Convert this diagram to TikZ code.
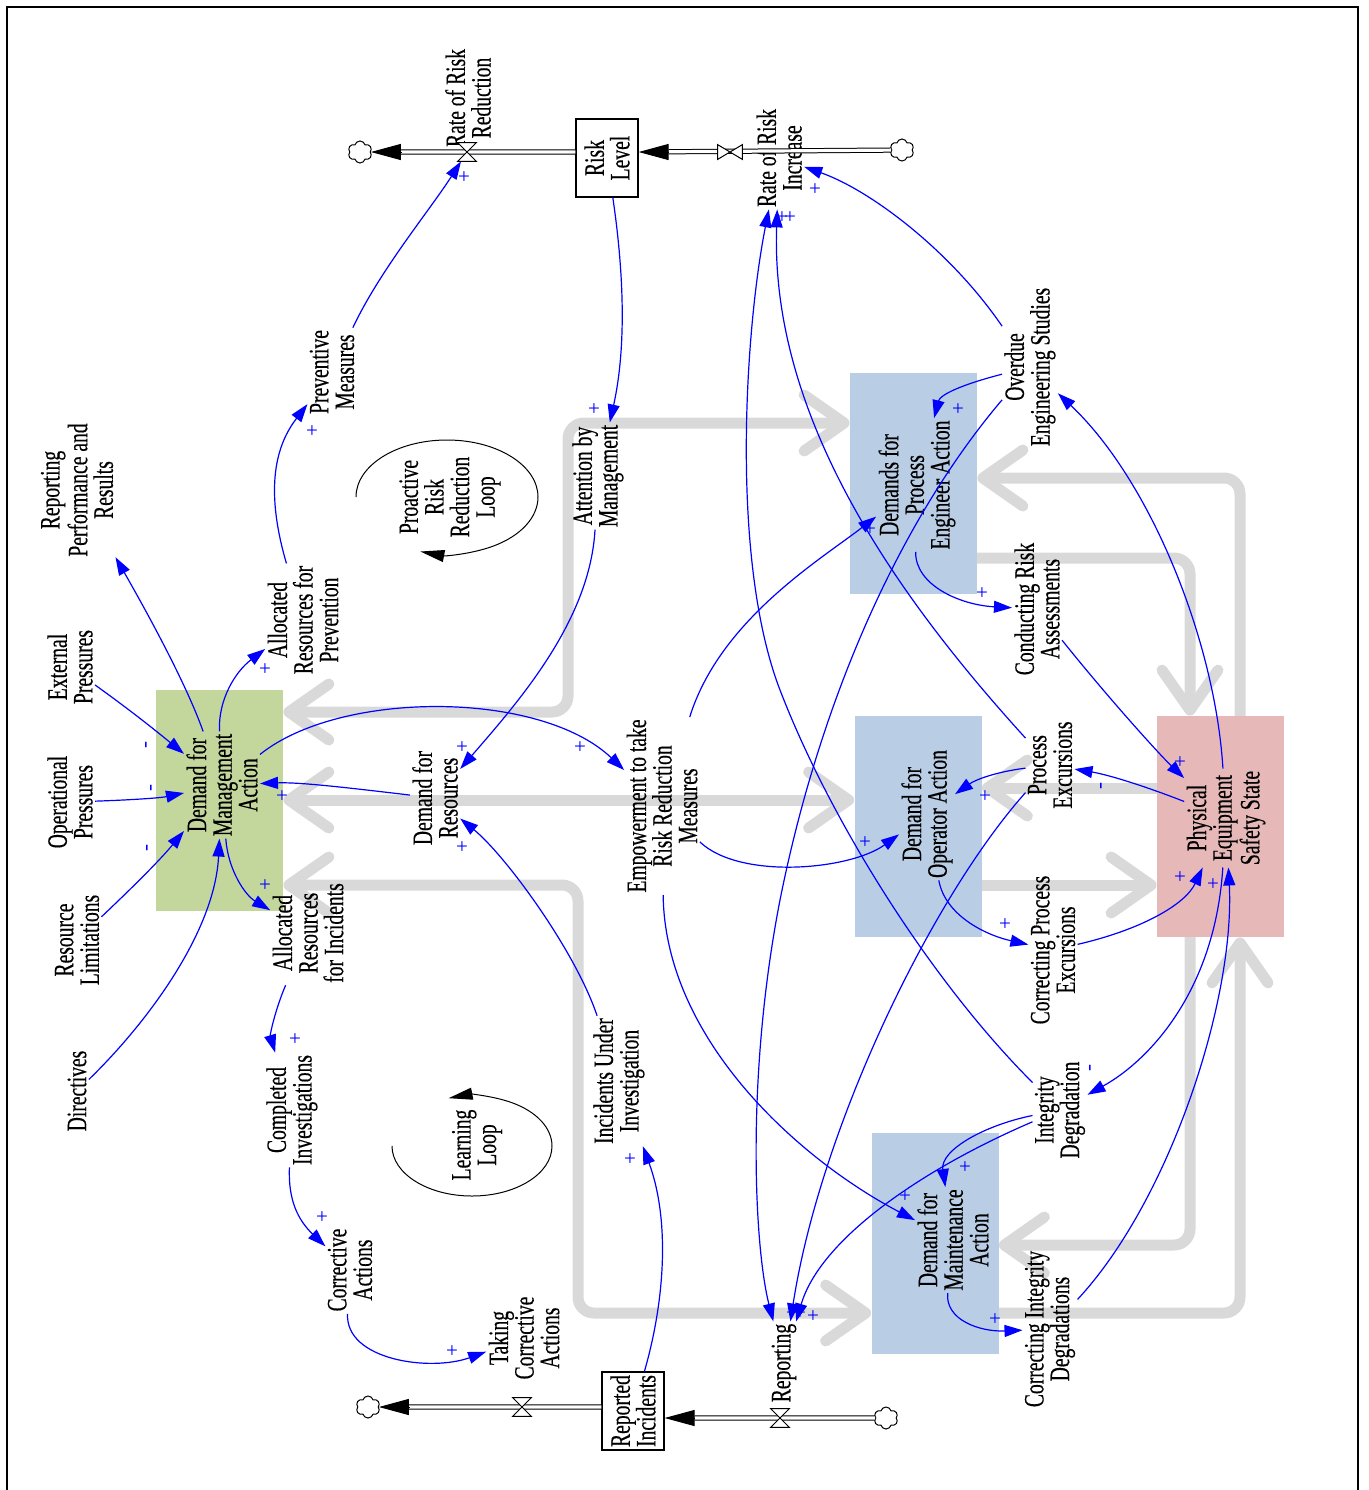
\documentclass[tikz,border=0pt]{standalone}
\usepackage{fontspec}
\setmainfont{Liberation Serif}
\newfontfamily\lblfont[FakeStretch=0.70,FakeBold=0.4]{Liberation Serif}
\usetikzlibrary{arrows.meta,shapes.symbols,calc}

\definecolor{linkblue}{HTML}{0000FF}
\definecolor{mgmtgreen}{HTML}{C3D69B}
\definecolor{groupblue}{HTML}{B9CDE5}
\definecolor{physpink}{HTML}{E6B9B8}
\definecolor{flowgray}{HTML}{D9D9D9}

\pgfdeclarelayer{background}
\pgfsetlayers{background,main}

\tikzset{
  lbl/.style={rotate=90, align=center, inner sep=1pt, text=black,
    font=\lblfont\fontsize{14}{12.8}\selectfont},
  areabox/.style={draw=none, inner sep=0pt, minimum width=63.5pt, minimum height=110.5pt},
  stock/.style={draw=black, line width=0.6pt, fill=white, rotate=90, inner sep=0pt,
    minimum width=39pt, minimum height=31pt, align=center,
    font=\lblfont\fontsize{14}{12.8}\selectfont},
  link/.style={draw=linkblue, line width=0.6pt, -{Triangle[length=9pt,width=6pt]}},
  polp/.style={text=linkblue, inner sep=0pt, font=\fontsize{10.5}{10.5}\selectfont},
  polm/.style={polp, rotate=90},
  gbar/.style={draw=flowgray, line width=5.5pt, rounded corners=8pt, line cap=round},
  gone/.style={-{Straight Barb[length=20pt,width=28pt,round]}},
  gboth/.style={{Straight Barb[length=20pt,width=28pt,round]}-{Straight Barb[length=20pt,width=28pt,round]}},
  pipe/.style={draw=black, line width=0.5pt, double=white, double distance=1.6pt},
  flowtip/.style={draw=black, line width=0.5pt, -{Triangle[length=15pt,width=8pt]}},
  valve/.style={inner sep=0pt, minimum width=9pt, minimum height=9pt},
  cloudsrc/.style={cloud, cloud puffs=6, cloud puff arc=150, aspect=1, draw=black,
    line width=0.5pt, fill=white, inner sep=0pt, minimum width=12pt, minimum height=11pt},
  loopar/.style={draw=black, line width=0.5pt, -{Triangle[length=12pt,width=6pt]}},
}

\begin{document}
\begin{tikzpicture}[x=0.5pt,y=-0.5pt]
\useasboundingbox (0,0) rectangle (1369,1490);
\draw[line width=1pt] (7,1490) -- (7,7) -- (1358,7) -- (1358,1490);

% shaded areas of responsibility
\node[areabox, fill=mgmtgreen] (mgmtbox) at (219.5,800.5) {};
\node[areabox, fill=groupblue] (pebox) at (913.5,483.5) {};
\node[areabox, fill=groupblue] (opbox) at (918,826.5) {};
\node[areabox, fill=groupblue] (maintbox) at (935,1243.5) {};
\node[areabox, fill=physpink] (physbox) at (1220.5,826.5) {};

% broad grey arrows between the areas
\coordinate (g1a) at (568,712); \coordinate (g1b) at (568,423);
\coordinate (g2) at (560,800);
\coordinate (g3a) at (578,885); \coordinate (g3b) at (578,1313);
\coordinate (g4) at (1070,885);
\coordinate (g5) at (1070,788);
\coordinate (g6) at (1190,558);
\coordinate (g7) at (1240,478);
\coordinate (g8) at (1190,1245);
\coordinate (g9) at (1240,1313);
\begin{pgfonlayer}{background}
\draw[gbar,gboth] (mgmtbox.east |- g1a) -- (g1a) -- (g1b) -- (pebox.west |- g1b);
\draw[gbar,gboth] (mgmtbox.east |- g2) -- (opbox.west |- g2);
\draw[gbar,gboth] (mgmtbox.east |- g3a) -- (g3a) -- (g3b) -- (maintbox.west |- g3b);
\draw[gbar,gone] (opbox.east |- g4) -- (physbox.west |- g4);
\draw[gbar,gone] (physbox.west |- g5) -- (opbox.east |- g5);
\draw[gbar,gone] (pebox.east |- g6) -- (g6) -- (g6 |- physbox.north);
\draw[gbar,gone] (g7 |- physbox.north) -- (g7) -- (pebox.east |- g7);
\draw[gbar,gone] (g8 |- physbox.south) -- (g8) -- (maintbox.east |- g8);
\draw[gbar,gone] (maintbox.east |- g9) -- (g9) -- (g9 |- physbox.south);
\end{pgfonlayer}

% area labels
\node[lbl] (mgmt) at (222,785) {Demand for\\Management\\Action};
\node[lbl] (pe) at (917,485) {Demands for\\Process\\Engineer Action};
\node[lbl] (op) at (927,814) {Demand for\\Operator Action};
\node[lbl] (maint) at (953,1240) {Demand for\\Maintenance\\Action};
\node[lbl] (phys) at (1226,818) {Physical\\Equipment\\Safety State};

% variables
\node[lbl] (rrr) at (468,98) {Rate of Risk\\Reduction};
\node[lbl] (rri) at (779,158) {Rate of Risk\\Increase};
\node[lbl] (repperf) at (77,490) {Reporting\\Performance and\\Results};
\node[lbl] (ext) at (70,667) {External\\Pressures};
\node[lbl] (oper) at (70,802) {Operational\\Pressures};
\node[lbl] (reslim) at (77,940) {Resource\\Limitations};
\node[lbl] (direct) at (77,1091) {Directives};
\node[lbl] (allocprev) at (303,620) {Allocated\\Resources for\\Prevention};
\node[lbl] (allocinc) at (308,933) {Allocated\\Resources\\for Incidents};
\node[lbl] (compinv) at (292,1110) {Completed\\Investigations};
\node[lbl] (corract) at (350,1270) {Corrective\\Actions};
\node[lbl] (taking) at (524,1338) {Taking\\Corrective\\Actions};
\node[lbl] (prev) at (332,372) {Preventive\\Measures};
\node[lbl] (attn) at (598,476) {Attention by\\Management};
\node[lbl] (demres) at (435,798) {Demand for\\Resources};
\node[lbl] (empower) at (662,806) {Empowerment to take\\Risk Reduction\\Measures};
\node[lbl] (iui) at (619,1081) {Incidents Under\\Investigation};
\node[lbl] (reporting) at (784,1363) {Reporting};
\node[lbl] (overdue) at (1030,367) {Overdue\\Engineering Studies};
\node[lbl] (cra) at (1037,609) {Conducting Risk\\Assessments};
\node[lbl] (procexc) at (1050,765) {Process\\Excursions};
\node[lbl] (cpe) at (1053,950) {Correcting Process\\Excursions};
\node[lbl] (intdeg) at (1060,1110) {Integrity\\Degradation};
\node[lbl] (cid) at (1050,1329) {Correcting Integrity\\Degradations};

% loop markers
\node[lbl] (proloop) at (450,497) {Proactive\\Risk\\Reduction\\Loop};
\node[lbl] (learnloop) at (477,1145) {Learning\\Loop};
\draw[loopar] (356,497) arc[start angle=180, end angle=467, x radius=91, y radius=57];
\draw[loopar] (392,1146) arc[start angle=180, end angle=-107, x radius=80, y radius=50];

% stocks, flows, valves, clouds
\node[stock] (risk) at (607,158) {Risk\\Level};
\node[stock] (repinc) at (633,1411) {Reported\\Incidents};
\node[valve] (rrvalve) at (467,152) {};
\node[valve, minimum width=12pt, minimum height=7pt] (rivalve) at (730,152) {};
\node[valve] (civalve) at (522,1407) {};
\node[valve] (repvalve) at (780,1418) {};
\node[cloudsrc] (sinkrr) at (360,152) {};
\node[cloudsrc] (srcri) at (902,150) {};
\node[cloudsrc] (sinkci) at (368,1407) {};
\node[cloudsrc] (srcrep) at (886,1418) {};

\draw[pipe, shorten >=15pt] (risk.north |- rrvalve) -- (sinkrr);
\draw[flowtip] ($(sinkrr.east)+(30,0)$) -- (sinkrr.east);
\draw[pipe, shorten >=15pt] (srcri) -- (risk.south |- rivalve);
\draw[flowtip] ($(risk.south |- rivalve)+(30,0)$) -- (risk.south |- rivalve);
\draw[pipe, shorten >=15pt] (repinc.north |- civalve) -- (sinkci);
\draw[flowtip] ($(sinkci.east)+(30,0)$) -- (sinkci.east);
\draw[pipe, shorten >=15pt] (srcrep) -- (repinc.south |- repvalve);
\draw[flowtip] ($(repinc.south |- repvalve)+(30,0)$) -- (repinc.south |- repvalve);

\draw[fill=white, line width=0.5pt] (rrvalve.north west) -- (rrvalve.north east) -- (rrvalve.south west) -- (rrvalve.south east) -- cycle;
\draw[fill=white, line width=0.5pt] (civalve.north west) -- (civalve.north east) -- (civalve.south west) -- (civalve.south east) -- cycle;
\draw[fill=white, line width=0.5pt] (repvalve.north west) -- (repvalve.north east) -- (repvalve.south west) -- (repvalve.south east) -- cycle;
\draw[fill=white, line width=0.5pt] (rivalve.north west) -- (rivalve.south west) -- (rivalve.north east) -- (rivalve.south east) -- cycle;

% causal links
\draw[link] (risk) .. controls (622,260) and (628,340) .. (attn);
\draw[link] (attn) .. controls (590,620) and (520,700) .. (demres);
\draw[link] (mgmt) .. controls (340,690) and (540,690) .. (empower);
\draw[link] (demres) .. controls (350,788) and (300,782) .. (mgmt);
\draw[link] (iui) .. controls (575,950) and (505,855) .. (demres);
\draw[link] (mgmt) .. controls (218,700) and (235,672) .. (allocprev);
\draw[link] (mgmt) .. controls (185,680) and (140,600) .. (repperf);
\draw[link] (ext) .. controls (130,710) and (155,730) .. (mgmt);
\draw[link] (oper) .. controls (130,800) and (160,798) .. (mgmt);
\draw[link] (reslim) .. controls (135,885) and (160,860) .. (mgmt);
\draw[link] (direct) .. controls (150,1020) and (215,930) .. (mgmt);
\draw[link] (mgmt) .. controls (228,870) and (245,895) .. (allocinc);
\draw[link] (allocinc) .. controls (275,1010) and (270,1035) .. (compinv);
\draw[link] (compinv) .. controls (288,1200) and (298,1220) .. (corract);
\draw[link] (corract) .. controls (345,1360) and (430,1372) .. (taking);
\draw[link] (allocprev) .. controls (262,480) and (280,440) .. (prev);
\draw[link] (prev) .. controls (380,270) and (430,210) .. (rrvalve);
\draw[link] (repinc) .. controls (665,1300) and (670,1220) .. (iui);
\draw[link] (empower) .. controls (720,620) and (820,560) .. (pe);
\draw[link] (empower) .. controls (740,880) and (850,870) .. (op);
\draw[link] (empower) .. controls (665,1040) and (800,1160) .. (maint);
\draw[link] (overdue) .. controls (960,385) and (940,395) .. (pe);
\draw[link] (overdue) .. controls (950,250) and (870,190) .. (rri);
\draw[link] (overdue) .. controls (900,520) and (820,700) .. (780,900) .. controls (745,1080) and (755,1250) .. (reporting);
\draw[link] (pe) .. controls (915,585) and (960,605) .. (cra);
\draw[link] (cra) .. controls (1110,700) and (1160,755) .. (phys);
\draw[link] (phys) .. controls (1215,640) and (1150,480) .. (overdue);
\draw[link] (phys) .. controls (1150,788) and (1110,775) .. (procexc);
\draw[link] (procexc) .. controls (995,772) and (975,780) .. (op);
\draw[link] (procexc) .. controls (900,600) and (770,420) .. (rri);
\draw[link] (procexc) .. controls (930,900) and (820,1130) .. (reporting);
\draw[link] (op) .. controls (945,915) and (985,935) .. (cpe);
\draw[link] (cpe) .. controls (1140,930) and (1185,905) .. (phys);
\draw[link] (phys) .. controls (1215,990) and (1150,1060) .. (intdeg);
\draw[link] (intdeg) .. controls (930,980) and (830,820) .. (780,690) .. controls (730,560) and (745,330) .. (rri);
\draw[link] (intdeg) .. controls (985,1125) and (940,1150) .. (maint);
\draw[link] (intdeg) .. controls (920,1170) and (820,1240) .. (reporting);
\draw[link] (maint) .. controls (945,1320) and (980,1332) .. (cid);
\draw[link] (cid) .. controls (1170,1200) and (1235,1000) .. (phys);

% link polarities
\node[polp] at (594,410) {+};
\node[polp] at (462,748) {+};
\node[polp] at (580,748) {+};
\node[polp] at (282,797) {+};
\node[polp] at (462,848) {+};
\node[polp] at (265,670) {+};
\node[polm] at (148,745) {-};
\node[polm] at (153,788) {-};
\node[polm] at (149,848) {-};
\node[polp] at (265,886) {+};
\node[polp] at (295,1040) {+};
\node[polp] at (322,1218) {+};
\node[polp] at (452,1352) {+};
\node[polp] at (312,432) {+};
\node[polp] at (464,178) {+};
\node[polp] at (630,1160) {+};
\node[polp] at (870,530) {+};
\node[polp] at (865,843) {+};
\node[polp] at (905,1197) {+};
\node[polp] at (958,410) {+};
\node[polp] at (815,190) {+};
\node[polp] at (792,1314) {+};
\node[polp] at (800,1314) {+};
\node[polp] at (813,1317) {+};
\node[polp] at (982,594) {+};
\node[polp] at (1180,763) {+};
\node[polm] at (1103,786) {-};
\node[polp] at (985,797) {+};
\node[polp] at (782,218) {+};
\node[polp] at (790,218) {+};
\node[polp] at (1005,925) {+};
\node[polp] at (1180,878) {+};
\node[polm] at (1092,1068) {-};
\node[polp] at (965,1168) {+};
\node[polp] at (995,1320) {+};
\node[polp] at (1213,885) {+};
\end{tikzpicture}
\end{document}
